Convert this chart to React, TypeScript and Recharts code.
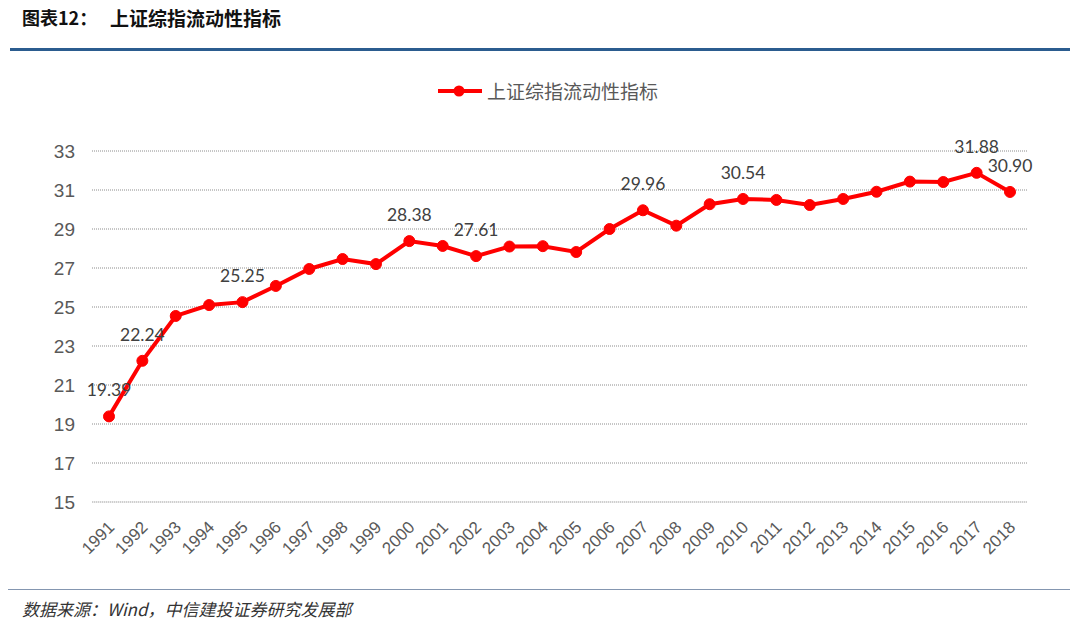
import React from 'react';
import { LineChart, Line, XAxis, YAxis, CartesianGrid, LabelList } from 'recharts';

const years = [
  '1991', '1992', '1993', '1994', '1995', '1996', '1997', '1998', '1999', '2000',
  '2001', '2002', '2003', '2004', '2005', '2006', '2007', '2008', '2009', '2010',
  '2011', '2012', '2013', '2014', '2015', '2016', '2017', '2018',
];
const liquidity = [
  19.39, 22.24, 24.54, 25.1, 25.25, 26.08, 26.95, 27.46, 27.2, 28.38,
  28.13, 27.61, 28.1, 28.12, 27.82, 29.0, 29.96, 29.17, 30.27, 30.54,
  30.49, 30.23, 30.54, 30.91, 31.43, 31.41, 31.88, 30.9,
];
const labeledYears = ['1991', '1992', '1995', '2000', '2002', '2007', '2010', '2017', '2018'];
const yTicks = [15, 17, 19, 21, 23, 25, 27, 29, 31, 33];
const seriesName = '上证综指流动性指标';

const data = years.map((year, i) => ({ year, value: liquidity[i] }));

const RED = '#ff0000';

const XTick = (props: any) => {
  const { x, y, payload } = props;
  return (
    <g transform={`translate(${x - 2},${y + 10})`}>
      <text
        transform="rotate(-45)"
        textAnchor="end"
        dy="0.7em"
        fill="#595959"
        fontSize={17}
        fontFamily="'Liberation Sans', Arial, sans-serif"
      >
        {payload.value}
      </text>
    </g>
  );
};

const PointLabel = (props: any) => {
  const { x, y, index } = props;
  if (!labeledYears.includes(years[index])) return null;
  return (
    <text
      x={x}
      y={y - 20}
      textAnchor="middle"
      fill="#404040"
      fontSize={17.5}
      fontFamily="Lato, 'Open Sans', sans-serif"
    >
      {liquidity[index].toFixed(2)}
    </text>
  );
};

export default function App() {
  return (
    <div
      style={{
        position: 'absolute',
        left: 0,
        top: 0,
        width: 1080,
        height: 621,
        background: '#fff',
        overflow: 'hidden',
        fontFamily: "'Noto Sans CJK SC', sans-serif",
      }}
    >
      <div style={{ position: 'absolute', left: 22, top: 4, fontSize: 18, fontWeight: 700, color: '#111' }}>
        图表12：
      </div>
      <div style={{ position: 'absolute', left: 110, top: 4, fontSize: 19, fontWeight: 700, color: '#111' }}>
        上证综指流动性指标
      </div>
      <div style={{ position: 'absolute', left: 10, top: 48, width: 1060, height: 3, background: '#2b5c8f' }} />

      <div style={{ position: 'absolute', left: 437, top: 77, display: 'flex', alignItems: 'center' }}>
        <svg width={46} height={14} style={{ marginRight: 4 }}>
          <line x1={1} y1={7} x2={45} y2={7} stroke={RED} strokeWidth={4} />
          <circle cx={22} cy={7} r={5.5} fill={RED} />
        </svg>
        <span style={{ color: '#595959', fontSize: 19 }}>{seriesName}</span>
      </div>

      <div style={{ position: 'absolute', left: 0, top: 0 }}>
        <LineChart
          width={1080}
          height={621}
          data={data}
          margin={{ top: 151, right: 53, bottom: 59, left: 32 }}
        >
          <CartesianGrid vertical={false} stroke="#8c8c8c" strokeDasharray="1 1" />
          <XAxis
            dataKey="year"
            interval={0}
            padding={{ left: 17, right: 17 }}
            axisLine={{ stroke: '#d9d9d9' }}
            tickLine={false}
            tick={<XTick />}
            height={60}
          />
          <YAxis
            domain={[15, 33]}
            ticks={yTicks}
            width={60}
            axisLine={false}
            tickLine={false}
            tick={{ fill: '#595959', fontSize: 19, fontFamily: "'Liberation Sans', Arial, sans-serif" }}
            tickMargin={11}
          />
          <Line
            type="linear"
            dataKey="value"
            name={seriesName}
            stroke={RED}
            strokeWidth={4}
            dot={{ r: 5.5, fill: RED, stroke: RED, strokeWidth: 1 }}
            isAnimationActive={false}
          >
            <LabelList dataKey="value" content={<PointLabel />} />
          </Line>
        </LineChart>
      </div>

      <div style={{ position: 'absolute', left: 8, top: 589, width: 1062, height: 1, background: '#8496b0' }} />
      <div
        style={{
          position: 'absolute',
          left: 22,
          top: 596,
          fontSize: 17,
          fontStyle: 'italic',
          color: '#333',
          whiteSpace: 'pre',
        }}
      >
        数据来源：Wind，中信建投证券研究发展部
      </div>
    </div>
  );
}
